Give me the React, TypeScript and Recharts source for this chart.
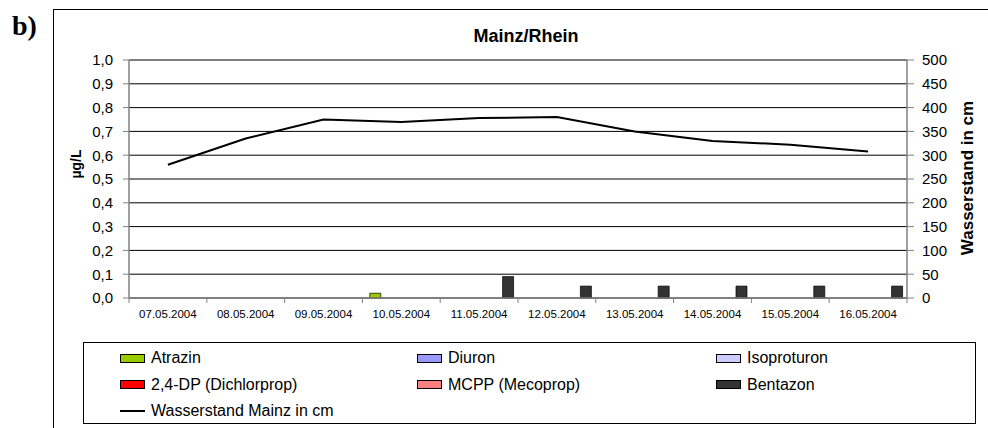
import { ComposedChart, Bar, Line, XAxis, YAxis, CartesianGrid } from "recharts";

const dates = [
  "07.05.2004", "08.05.2004", "09.05.2004", "10.05.2004", "11.05.2004",
  "12.05.2004", "13.05.2004", "14.05.2004", "15.05.2004", "16.05.2004",
];

// µg/L, null = not detected
const atrazin = [null, null, null, 0.02, null, null, null, null, null, null];
const diuron = [null, null, null, null, null, null, null, null, null, null];
const isoproturon = [null, null, null, null, null, null, null, null, null, null];
const dichlorprop = [null, null, null, null, null, null, null, null, null, null];
const mecoprop = [null, null, null, null, null, null, null, null, null, null];
const bentazon = [null, null, null, null, 0.09, 0.05, 0.05, 0.05, 0.05, 0.05];

// Wasserstand Mainz in cm
const wasserstand = [280, 335, 375, 370, 378, 380, 350, 330, 322, 308];

const leftTicks = [0, 0.1, 0.2, 0.3, 0.4, 0.5, 0.6, 0.7, 0.8, 0.9, 1.0];
const rightTicks = [0, 50, 100, 150, 200, 250, 300, 350, 400, 450, 500];

const series = [
  { key: "atrazin", name: "Atrazin", values: atrazin },
  { key: "diuron", name: "Diuron", values: diuron },
  { key: "isoproturon", name: "Isoproturon", values: isoproturon },
  { key: "dichlorprop", name: "2,4-DP (Dichlorprop)", values: dichlorprop },
  { key: "mecoprop", name: "MCPP (Mecoprop)", values: mecoprop },
  { key: "bentazon", name: "Bentazon", values: bentazon },
];
const lineName = "Wasserstand Mainz in cm";

const COLORS: Record<string, string> = {
  atrazin: "#99cc00",
  diuron: "#9999ff",
  isoproturon: "#ccccff",
  dichlorprop: "#ff0000",
  mecoprop: "#ff8080",
  bentazon: "#333333",
};

const data = dates.map((d, i) => {
  const row: Record<string, any> = { date: d, level: wasserstand[i] };
  series.forEach((s) => (row[s.key] = s.values[i]));
  return row;
});

const FONT = "'Liberation Sans', Arial, sans-serif";
const PLOT_LEFT = 129;
const PLOT_RIGHT = 907;
const BAND = (PLOT_RIGHT - PLOT_LEFT) / dates.length;

const DateTick = (props: any) => {
  const { x, y, payload, index } = props;
  const top = y - 2;
  return (
    <g>
      <line x1={x - BAND / 2} x2={x - BAND / 2} y1={top} y2={top + 5} stroke="#808080" />
      {index === dates.length - 1 && (
        <line x1={x + BAND / 2} x2={x + BAND / 2} y1={top} y2={top + 5} stroke="#808080" />
      )}
      <text x={x} y={top + 20} textAnchor="middle" fontSize={11.5} fill="#000" fontFamily={FONT}>
        {payload.value}
      </text>
    </g>
  );
};

const fmtLeft = (v: number) => v.toFixed(1).replace(".", ",");

export default function App() {
  return (
    <div
      style={{
        position: "absolute", left: 0, top: 0, width: 988, height: 428,
        overflow: "hidden", background: "#fff", fontFamily: FONT,
      }}
    >
      {/* outer frame */}
      <div style={{ position: "absolute", left: 53, top: 9, width: 960, height: 440, border: "1px solid #000" }} />

      <div style={{ position: "absolute", left: 0, top: 0 }}>
        <ComposedChart
          width={988}
          height={330}
          data={data}
          margin={{ top: 60, right: 0, bottom: 0, left: 0 }}
          barCategoryGap="9.5%"
          barGap={0}
        >
          <CartesianGrid yAxisId="left" vertical={false} stroke="#000" strokeWidth={1} />
          <XAxis
            dataKey="date"
            height={32}
            tickLine={false}
            tickSize={0}
            tickMargin={2}
            interval={0}
            axisLine={{ stroke: "#808080", strokeWidth: 1.5 }}
            tick={<DateTick />}
          />
          <YAxis
            yAxisId="left"
            width={129}
            domain={[0, 1]}
            ticks={leftTicks}
            interval={0}
            tickFormatter={fmtLeft}
            tickSize={6}
            tickMargin={10}
            axisLine={{ stroke: "#808080", strokeWidth: 1.5 }}
            tickLine={{ stroke: "#808080" }}
            tick={{ fill: "#000", fontSize: 15, fontFamily: FONT }}
          />
          <YAxis
            yAxisId="right"
            orientation="right"
            width={81}
            domain={[0, 500]}
            ticks={rightTicks}
            interval={0}
            tickSize={7}
            tickMargin={8}
            axisLine={{ stroke: "#808080", strokeWidth: 1.5 }}
            tickLine={{ stroke: "#808080" }}
            tick={{ fill: "#000", fontSize: 15, fontFamily: FONT }}
          />
          {series.map((s) => (
            <Bar
              key={s.key}
              yAxisId="left"
              dataKey={s.key}
              name={s.name}
              fill={COLORS[s.key]}
              stroke="#000"
              strokeWidth={0.7}
              isAnimationActive={false}
            />
          ))}
          <Line
            yAxisId="right"
            dataKey="level"
            name={lineName}
            type="linear"
            stroke="#000"
            strokeWidth={2}
            dot={false}
            isAnimationActive={false}
          />
        </ComposedChart>
      </div>

      {/* titles */}
      <svg width={988} height={428} style={{ position: "absolute", left: 0, top: 0, pointerEvents: "none" }}>
        <text x={12} y={35} fontFamily="'Liberation Serif', 'Times New Roman', serif" fontWeight="bold" fontSize={28}>
          b)
        </text>
        <text x={526} y={42} textAnchor="middle" fontFamily={FONT} fontWeight="bold" fontSize={18}>
          Mainz/Rhein
        </text>
        <text
          x={0} y={0} textAnchor="middle" fontFamily={FONT} fontWeight="bold" fontSize={14}
          transform="translate(81 164) rotate(-90)"
        >
          µg/L
        </text>
        <text
          x={0} y={0} textAnchor="middle" fontFamily={FONT} fontWeight="bold" fontSize={17}
          transform="translate(973 178) rotate(-90)"
        >
          Wasserstand in cm
        </text>
      </svg>

      {/* legend */}
      <div
        style={{
          position: "absolute", left: 83, top: 342, width: 893, height: 82,
          border: "1px solid #000", boxSizing: "border-box",
        }}
      >
        {[...series.map((s) => ({ name: s.name, key: s.key })), { name: lineName, key: "line" }].map((item, i) => {
          const col = i % 3;
          const row = Math.floor(i / 3);
          const left = [36, 333, 632][col];
          const top = 15 + row * 26.5;
          return (
            <div
              key={item.key}
              style={{ position: "absolute", left, top: top - 10, height: 20, display: "flex", alignItems: "center", whiteSpace: "nowrap" }}
            >
              {item.key === "line" ? (
                <span style={{ display: "inline-block", width: 25, height: 2, background: "#000", marginRight: 6 }} />
              ) : (
                <span
                  style={{
                    display: "inline-block", width: 25, height: 9, boxSizing: "border-box",
                    background: COLORS[item.key], border: "1px solid #000", marginRight: 6,
                  }}
                />
              )}
              <span style={{ fontSize: 16, color: "#000" }}>{item.name}</span>
            </div>
          );
        })}
      </div>
    </div>
  );
}
